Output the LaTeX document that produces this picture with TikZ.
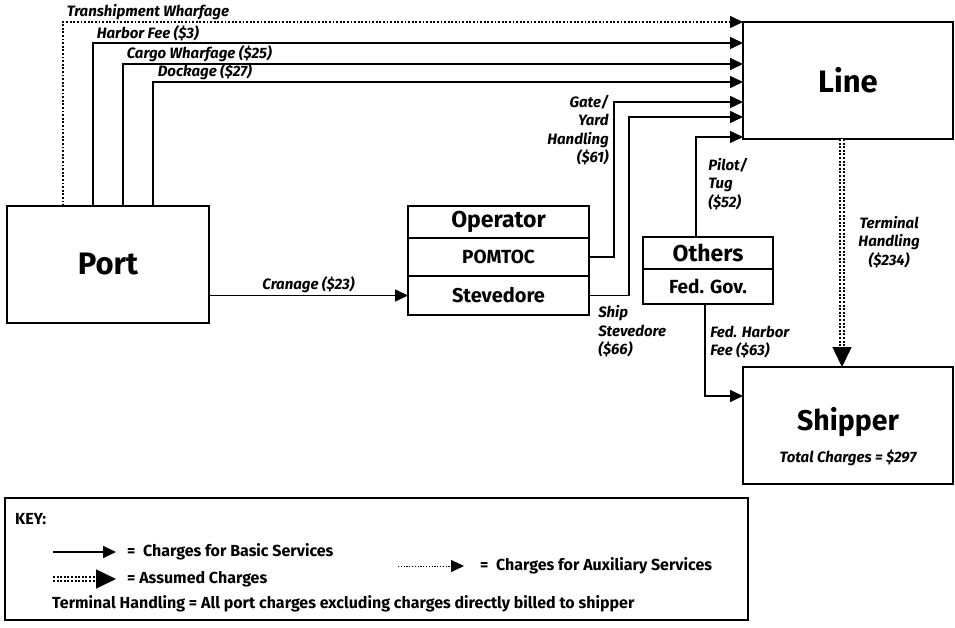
\documentclass[tikz,border=0pt]{standalone}
\usepackage{fontspec}
\setmainfont{Fira Sans}
\usetikzlibrary{positioning, arrows.meta}

\begin{document}
\begin{tikzpicture}[
    x=1pt, y=-1pt,
    font=\bfseries,
    box/.style={rectangle, draw, line width=1.8pt, inner sep=0pt, outer sep=0pt},
    lab/.style={font=\bfseries\itshape\fontsize{15}{18.5}\selectfont, inner sep=1.5pt, align=left},
    keytext/.style={font=\bfseries\fontsize{16}{18}\selectfont, anchor=west, inner sep=0pt},
    arrow/.style={-{Triangle[length=13pt, width=12pt]}, line width=1.6pt},
    aux/.style={arrow, dash pattern=on 1.8pt off 1.8pt},
    assumed/.style={line width=1.8pt, double distance=2.6pt, dash pattern=on 2pt off 1.6pt},
    bighead/.style={-{Triangle[length=20pt, width=19pt]}, line width=1.6pt}
]
\useasboundingbox (0,0) rectangle (955,628);

% Nodes
\node (port) [box, minimum width=202pt, minimum height=117pt, font=\bfseries\fontsize{31}{33}\selectfont] at (108,264.5) {Port};
\node (line) [box, minimum width=210pt, minimum height=117pt, font=\bfseries\fontsize{31}{33}\selectfont] at (848,80.5) {Line};
\node (shipper) [box, minimum width=210pt, minimum height=117pt] at (848,425.5) {};
\node (shiptitle) [font=\bfseries\fontsize{28.5}{31}\selectfont] at ([yshift=3.5pt]shipper.center) {Shipper};
\node (total) [lab] at ([yshift=-32.5pt]shipper.center) {Total Charges = \$297};

\node (op) [box, minimum width=181pt, minimum height=32pt, font=\bfseries\fontsize{23}{25}\selectfont] at (498.5,222) {Operator};
\node (pomtoc) [box, minimum width=181pt, minimum height=38pt, below=0pt of op, font=\bfseries\fontsize{19}{21}\selectfont] {POMTOC};
\node (stev) [box, minimum width=181pt, minimum height=39pt, below=0pt of pomtoc, font=\bfseries\fontsize{20}{22}\selectfont] {Stevedore};

\node (others) [box, minimum width=130pt, minimum height=32pt, font=\bfseries\fontsize{23}{25}\selectfont] at (708,253) {Others};
\node (fedgov) [box, minimum width=130pt, minimum height=35pt, below=0pt of others, font=\bfseries\fontsize{19}{21}\selectfont] {Fed. Gov.};

% Port to Line
\draw [aux] ([xshift=56pt]port.north west) |- node[lab, pos=0.5, anchor=south west, xshift=1.5pt]{Transhipment Wharfage} (line.north west);
\draw [arrow] ([xshift=86pt]port.north west) |- node[lab, pos=0.5, anchor=south west, xshift=1.5pt]{Harbor Fee (\$3)} ([yshift=-21pt]line.north west);
\draw [arrow] ([xshift=116pt]port.north west) |- node[lab, pos=0.5, anchor=south west, xshift=1.5pt]{Cargo Wharfage (\$25)} ([yshift=-42pt]line.north west);
\draw [arrow] ([xshift=146pt]port.north west) |- node[lab, pos=0.5, anchor=south west, xshift=2.5pt]{Dockage (\$27)} ([yshift=-60pt]line.north west);

% Port to Operator
\draw [arrow] (stev.west -| port.east) -- node[lab, above]{Cranage (\$23)} (stev.west);

% Operator to Line
\draw [arrow] (pomtoc.east) -- ++(25,0) |- node[lab, pos=0.5, anchor=north east, align=right, xshift=-3pt, yshift=9.5pt]{Gate/\\Yard\\Handling\\(\$61)} ([yshift=-80pt]line.north west);
\draw [arrow] (stev.east) node[lab, anchor=north west, xshift=7pt, yshift=-8pt]{Ship\\Stevedore\\(\$66)} -- ++(40,0) |- ([yshift=-95pt]line.north west);

% Others to Line and Shipper
\draw [arrow] ([xshift=-12pt]others.north) |- node[lab, pos=0.25, anchor=west, xshift=10pt, yshift=3pt]{Pilot/\\Tug\\(\$52)} ([yshift=-115pt]line.north west);
\draw [arrow] ([xshift=-3pt]fedgov.south) |- node[lab, pos=0.25, anchor=west, xshift=3pt, yshift=8pt]{Fed. Harbor\\Fee (\$63)} ([yshift=-29pt]shipper.north west);

% Line to Shipper
\draw [assumed, shorten >=18pt] ([xshift=-6pt]line.south) -- node[lab, anchor=west, xshift=14pt, yshift=11pt, align=center]{Terminal\\Handling\\(\$234)} ([xshift=-6pt]shipper.north);
\draw [bighead] ([xshift=-6pt, yshift=20pt]shipper.north) -- ([xshift=-6pt]shipper.north);

% Key
\node (keybox) [box, line width=1.2pt, minimum width=743pt, minimum height=122pt] at (376.5,559) {};
\node (keylbl) [keytext] at (15,519) {KEY:};
\node (basic) [keytext] at (127,552) {=\ \ Charges for Basic Services};
\draw [arrow] ([xshift=-74pt]basic.west) -- ([xshift=-11pt]basic.west);
\node (assumedtxt) [keytext] at (127,579) {= Assumed Charges};
\draw [assumed, shorten >=16pt] ([xshift=-74pt]assumedtxt.west) -- ([xshift=-11pt]assumedtxt.west);
\draw [bighead] ([xshift=-30pt]assumedtxt.west) -- ([xshift=-11pt]assumedtxt.west);
\node (auxtxt) [keytext] at (480,566) {=\ \ Charges for Auxiliary Services};
\draw [aux, line width=1pt, dash pattern=on 1.2pt off 1.6pt] ([xshift=-82pt]auxtxt.west) -- ([xshift=-16pt]auxtxt.west);
\node (note) [keytext] at (52,604) {Terminal Handling = All port charges excluding charges directly billed to shipper};

\end{tikzpicture}
\end{document}
